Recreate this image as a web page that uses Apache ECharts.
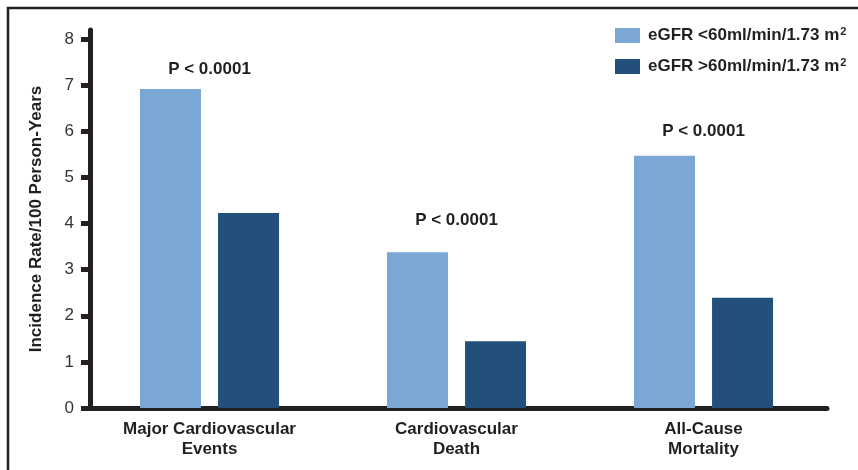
<!DOCTYPE html>
<html>
<head>
<meta charset="utf-8">
<script src="https://cdn.jsdelivr.net/npm/echarts@6/dist/echarts.min.js"></script>
<style>
  html, body { margin: 0; padding: 0; background: #fff; }
  #chart { width: 858px; height: 470px; }
</style>
</head>
<body>
<div id="chart"></div>
<script>
// data
var categories = ['Major Cardiovascular\nEvents', 'Cardiovascular\nDeath', 'All-Cause\nMortality'];
var seriesNames = ['eGFR <60ml/min/1.73 m2', 'eGFR >60ml/min/1.73 m2'];
var below60 = [6.92, 3.38, 5.47];
var above60 = [4.23, 1.45, 2.39];
var pLabels = ['P < 0.0001', 'P < 0.0001', 'P < 0.0001'];
var pLabelY = [7.35, 4.08, 6.01];
var yTicks = [0, 1, 2, 3, 4, 5, 6, 7, 8];

var font = 'Liberation Sans, Arial, Helvetica, sans-serif';
var ink = '#231f20';

var chart = echarts.init(document.getElementById('chart'));

var option = {
    animation: false,
    textStyle: { fontFamily: font },
    graphic: [{
        type: 'rect',
        shape: { x: 8, y: 8, width: 900, height: 520 },
        style: { fill: 'none', stroke: ink, lineWidth: 2.5 },
        silent: true
    }],
    legend: {
        orient: 'vertical',
        left: 610,
        top: 21,
        itemWidth: 25,
        itemHeight: 15,
        itemGap: 13,
        icon: 'rect',
        data: seriesNames,
        // superscript the trailing 2 of m2
        formatter: function (name) { return '{b|' + name.slice(0, -1) + '}{sup|2}'; },
        textStyle: {
            fontSize: 17, fontWeight: 'bold', color: ink, fontFamily: font,
            rich: {
                b: { fontSize: 17, fontWeight: 'bold', color: ink, fontFamily: font, padding: [0, 0, 0, 3] },
                sup: { fontSize: 11, fontWeight: 'bold', color: ink, fontFamily: font, padding: [0, 0, 8, 1] }
            }
        }
    },
    grid: { left: 86, right: 31, top: 30, bottom: 62, containLabel: false },
    xAxis: {
        type: 'category',
        data: categories,
        axisLine: { lineStyle: { color: ink, width: 5 } },
        axisTick: { show: false },
        axisLabel: {
            interval: 0,
            margin: 11,
            fontSize: 17,
            fontWeight: 'bold',
            lineHeight: 20,
            color: ink,
            fontFamily: font
        }
    },
    yAxis: {
        type: 'value',
        min: 0,
        max: 8.2,
        offset: -4,
        name: 'Incidence Rate/100 Person-Years',
        nameLocation: 'middle',
        nameRotate: 90,
        nameGap: 45,
        nameTextStyle: { fontSize: 17, fontWeight: 'bold', color: ink, fontFamily: font },
        splitLine: { show: false },
        axisLine: { show: true, lineStyle: { color: ink, width: 5 } },
        axisTick: { show: true, customValues: yTicks, length: 9, lineStyle: { color: ink, width: 5 } },
        axisLabel: { customValues: yTicks, margin: 16, fontSize: 17, color: '#333', fontFamily: font }
    },
    series: [
        {
            name: seriesNames[0],
            type: 'bar',
            data: below60,
            barWidth: 61,
            barGap: '28%',
            itemStyle: { color: '#7ba7d5' }
        },
        {
            name: seriesNames[1],
            type: 'bar',
            data: above60,
            barWidth: 61,
            itemStyle: { color: '#22507a' }
        },
        {
            type: 'scatter',
            data: pLabelY,
            symbolSize: 0,
            silent: true,
            itemStyle: { opacity: 1 },
            label: {
                show: true,
                position: 'inside',
                formatter: function (p) { return pLabels[p.dataIndex]; },
                fontSize: 17,
                fontWeight: 'bold',
                color: ink,
                fontFamily: font
            }
        }
    ]
};

chart.setOption(option);
</script>
</body>
</html>
